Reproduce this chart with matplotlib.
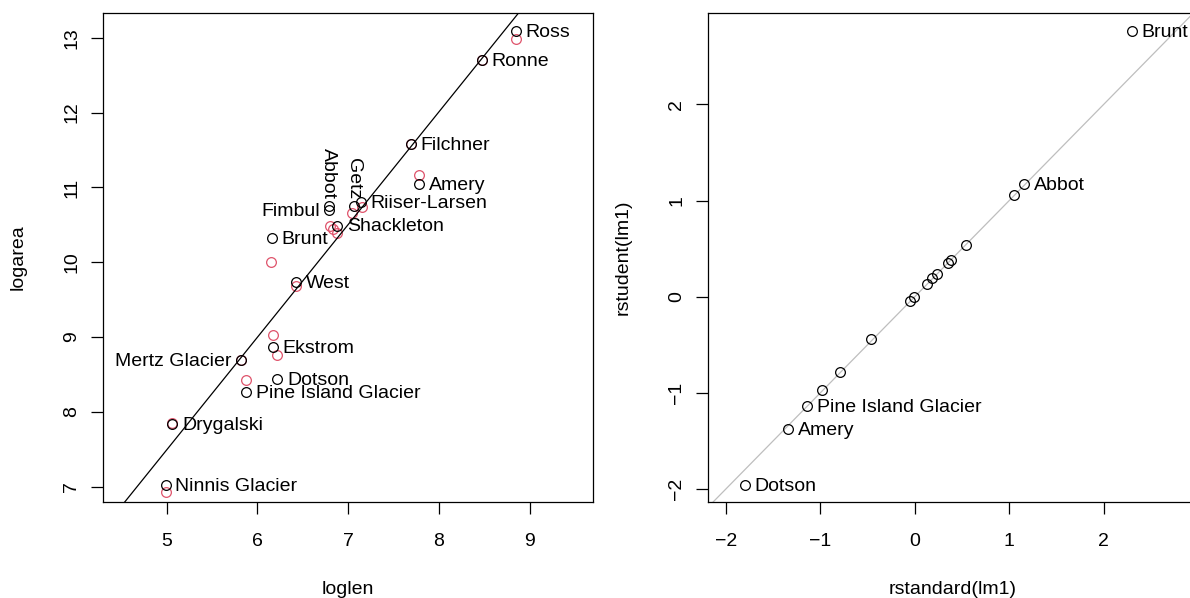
import numpy as np
import matplotlib.pyplot as plt

plt.rcParams['font.family'] = ['Liberation Sans', 'DejaVu Sans']
plt.rcParams['font.size'] = 14

# ice shelves: log length / log area (black), second measure (red)
names = ["Ross", "Ronne", "Filchner", "Amery", "Riiser-Larsen", "Getz",
         "Abbot", "Fimbul", "Shackleton", "Brunt", "West", "Ekstrom",
         "Mertz Glacier", "Dotson", "Pine Island Glacier", "Drygalski",
         "Ninnis Glacier"]
loglen = [8.851, 8.476, 7.690, 7.785, 7.142, 7.060,
          6.785, 6.795, 6.880, 6.158, 6.426, 6.168,
          5.823, 6.220, 5.874, 5.062, 4.989]
logarea = [13.094, 12.70, 11.58, 11.045, 10.80, 10.755,
           10.75, 10.70, 10.49, 10.328, 9.740, 8.863,
           8.693, 8.443, 8.266, 7.838, 7.023]
loglen2 = [8.851, 8.476, 7.690, 7.785, 7.150, 7.045,
           6.800, 6.830, 6.874, 6.153, 6.430, 6.168,
           5.823, 6.220, 5.874, 5.062, 4.989]
logarea2 = [12.98, 12.70, 11.58, 11.161, 10.742, 10.66,
            10.49, 10.44, 10.386, 10.007, 9.682, 9.023,
            8.693, 8.76, 8.426, 7.855, 6.933]
fit_slope = 1.505
fit_icept = -0.033

# label placement: 'r' right, 'l' left, 'u' rotated above
label_pos = {"Mertz Glacier": "l", "Fimbul": "l", "Abbot": "u", "Getz": "u"}

# residual diagnostics
rstandard = [2.298, 1.156, 1.050, 0.541, 0.382, 0.353, 0.237, 0.187, 0.131,
             -0.007, -0.053, -0.459, -0.795, -0.983, -1.138, -1.340, -1.803]
rstudent = [2.765, 1.173, 1.058, 0.538, 0.385, 0.347, 0.236, 0.191, 0.132,
            0.0, -0.042, -0.444, -0.784, -0.971, -1.137, -1.373, -1.959]
res_names = ["Brunt", "Abbot", "", "", "", "", "", "", "", "", "", "", "", "",
             "Pine Island Glacier", "Amery", "Dotson"]

red = "#DF536B"
W, H = 1190, 598
fig = plt.figure(figsize=(W / 100, H / 100), dpi=100)
ax1 = fig.add_axes([103 / W, 1 - 502 / H, 490 / W, 489 / H])
ax2 = fig.add_axes([708 / W, 1 - 502 / H, 490 / W, 489 / H])

mk = dict(marker="o", mfc="none", ms=7, mew=0.9, ls="none")

ax1.plot(loglen2, logarea2, color=red, **mk)
ax1.plot(loglen, logarea, color="black", **mk)
ax1.axline((0, fit_icept), slope=fit_slope, color="black", lw=0.9)
for n, x, y in zip(names, loglen, logarea):
    p = label_pos.get(n, "r")
    if p == "r":
        ax1.annotate(n, (x, y), xytext=(7, -1), textcoords="offset points",
                     ha="left", va="center")
    elif p == "l":
        ax1.annotate(n, (x, y), xytext=(-7, -1), textcoords="offset points",
                     ha="right", va="center")
    else:
        ax1.annotate(n, (x, y), xytext=(0, 5), textcoords="offset points",
                     ha="center", va="bottom", rotation=270)
ax1.set_xlim(4.298, 9.700)
ax1.set_ylim(6.796, 13.330)
ax1.set_xticks([5, 6, 7, 8, 9])
ax1.set_yticks([7, 8, 9, 10, 11, 12, 13])
ax1.set_xlabel("loglen")
ax1.set_ylabel("logarea")

ax2.axline((0, 0), slope=1, color="#BEBEBE", lw=0.9)
ax2.plot(rstandard, rstudent, color="black", **mk)
for n, x, y in zip(res_names, rstandard, rstudent):
    if n:
        ax2.annotate(n, (x, y), xytext=(7, -1), textcoords="offset points",
                     ha="left", va="center")
ax2.set_xlim(-2.19, 3.0)
ax2.set_ylim(-2.136, 2.952)
ax2.set_xticks([-2, -1, 0, 1, 2])
ax2.set_yticks([-2, -1, 0, 1, 2])
ax2.set_xlabel("rstandard(lm1)")
ax2.set_ylabel("rstudent(lm1)")

for ax in (ax1, ax2):
    for s in ax.spines.values():
        s.set_linewidth(0.9)
    ax.tick_params(length=8.5, width=0.9, pad=14)
    ax.tick_params(axis="y", labelrotation=90, pad=8)
    for t in ax.get_yticklabels():
        t.set_va("center")
    ax.xaxis.set_label_coords(0.5, -0.162)
    ax.yaxis.set_label_coords(-0.155, 0.5)

fig.savefig("out.png", dpi=100)
